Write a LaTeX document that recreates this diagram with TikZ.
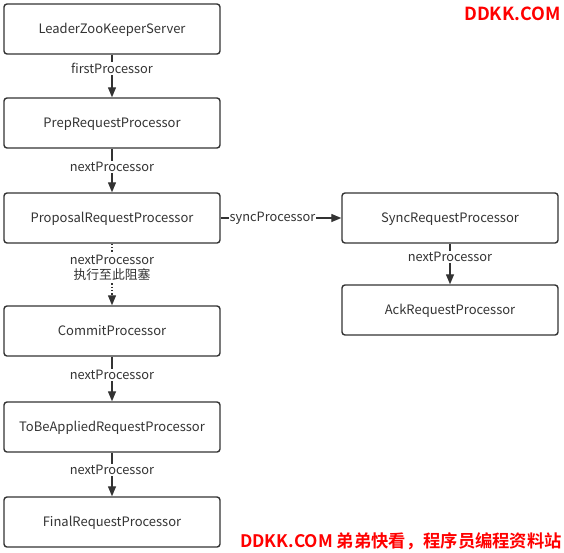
\documentclass[tikz,border=0pt]{standalone}
\usepackage{fontspec}
\setmainfont{Noto Sans CJK SC}
\newfontfamily\cjkb{Noto Sans CJK SC Bold}
\usetikzlibrary{arrows.meta}
\definecolor{ink}{HTML}{333333}
\definecolor{wm}{HTML}{FF0000}
\tikzset{
  proc/.style={draw=ink, line width=1.4pt, rounded corners=3pt, minimum width=216pt, minimum height=50pt, inner sep=0pt, text height=9.5pt, text depth=0pt, text=ink, font=\fontsize{13pt}{15pt}\selectfont},
  conn/.style={draw=ink, line width=1.3pt, -{Triangle[length=10pt,width=8pt]}},
  lbl/.style={fill=white, text=ink, inner sep=1pt, font=\fontsize{12.8pt}{15pt}\selectfont},
  wmark/.style={text=wm, inner sep=0pt}
}
\begin{document}
\begin{tikzpicture}[x=1pt,y=-1pt]
\useasboundingbox (0,0) rectangle (564,552);
\node[proc] (leader) at (112,29) {LeaderZooKeeperServer};
\node[proc] (prep) at (112,123) {PrepRequestProcessor};
\node[proc] (prop) at (112,218) {ProposalRequestProcessor};
\node[proc] (commit) at (112,331) {CommitProcessor};
\node[proc] (tobe) at (112,427) {ToBeAppliedRequestProcessor};
\node[proc] (final) at (112,522) {FinalRequestProcessor};
\node[proc] (sync) at (450,218) {SyncRequestProcessor};
\node[proc] (ack) at (450,310) {AckRequestProcessor};
\draw[conn] (leader) -- node[lbl, pos=0.32] {firstProcessor} (prep);
\draw[conn] (prep) -- node[lbl, pos=0.42] {nextProcessor} (prop);
\draw[conn, dotted] (prop) -- node[lbl, pos=0.39, align=center, font=\fontsize{12.8pt}{15pt}\selectfont] {nextProcessor\\执行至此阻塞} (commit);
\draw[conn] (commit) -- node[lbl, pos=0.41] {nextProcessor} (tobe);
\draw[conn] (tobe) -- node[lbl, pos=0.4] {nextProcessor} (final);
\draw[conn] (prop) -- node[lbl, pos=0.43] {syncProcessor} (sync);
\draw[conn] (sync) -- node[lbl, pos=0.33] {nextProcessor} (ack);
\node[wmark, anchor=east, font=\cjkb\fontsize{18pt}{20pt}\selectfont] (wm1) at (561,14) {DDKK.COM};
\node[wmark, anchor=east, font=\cjkb\fontsize{17.3pt}{19pt}\selectfont] (wm2) at (562,541) {DDKK.COM 弟弟快看，程序员编程资料站};
\end{tikzpicture}
\end{document}
